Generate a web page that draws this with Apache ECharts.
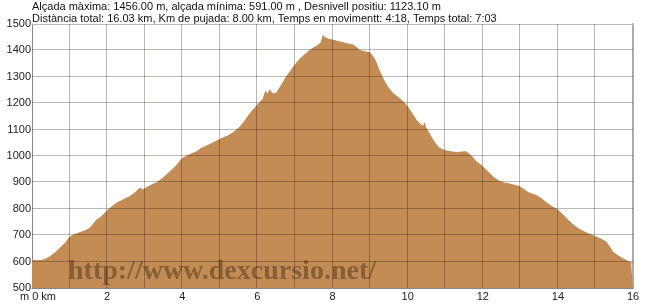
<!DOCTYPE html>
<html><head><meta charset="utf-8">
<script src="https://cdn.jsdelivr.net/npm/echarts@6/dist/echarts.min.js"></script>
<style>html,body{margin:0;padding:0;background:#fff}#c{width:650px;height:305px}</style>
</head><body><div id="c"></div>
<script>
var distanceKm = [0,0.15,0.3,0.48,0.6,0.74,0.9,1.0,1.1,1.28,1.4,1.54,1.65,1.72,1.85,2.0,2.1,2.25,2.4,2.6,2.75,2.87,2.95,3.0,3.15,3.32,3.5,3.67,3.85,4.0,4.2,4.38,4.5,4.65,4.8,5.0,5.2,5.35,5.5,5.62,5.8,6.0,6.15,6.22,6.27,6.33,6.4,6.5,6.65,6.77,6.9,7.0,7.1,7.2,7.35,7.48,7.6,7.7,7.75,7.8,7.9,8.0,8.15,8.28,8.4,8.55,8.65,8.72,8.85,9.0,9.1,9.17,9.25,9.34,9.45,9.61,9.75,9.88,10.0,10.12,10.23,10.35,10.42,10.45,10.48,10.55,10.67,10.75,10.85,11.0,11.15,11.3,11.45,11.56,11.7,11.83,12.0,12.18,12.3,12.45,12.6,12.71,12.85,12.98,13.1,13.24,13.4,13.51,13.65,13.78,14.0,14.1,14.22,14.35,14.49,14.6,14.75,14.9,15.0,15.15,15.28,15.38,15.46,15.6,15.72,15.85,15.95,16.0];
var elevationM = [605,603,606,618,632,650,672,692,700,710,716,726,745,758,770,793,805,821,832,846,862,878,872,878,888,899,918,940,965,991,1005,1016,1028,1038,1048,1063,1075,1088,1105,1124,1160,1193,1215,1245,1232,1250,1236,1237,1270,1300,1325,1345,1362,1376,1395,1408,1418,1430,1456,1448,1442,1439,1434,1429,1425,1420,1410,1401,1395,1391,1372,1351,1322,1294,1265,1237,1222,1206,1187,1160,1136,1118,1112,1125,1108,1092,1061,1045,1029,1020,1016,1013,1015,1016,1000,978,960,934,918,903,897,894,889,884,872,859,852,844,828,814,795,782,764,746,730,720,709,700,694,685,675,655,637,622,612,602,596,591];
var gridKm = [1,2,3,4,5,6,7,8,9,10,11,12,13,14,15];
var gridElev = [600,700,800,900,1000,1100,1200,1300,1400];
var headerLine1 = "Alçada màxima: 1456.00 m, alçada mínima: 591.00 m , Desnivell positiu: 1123.10 m";
var headerLine2 = "Distància total: 16.03 km, Km de pujada: 8.00 km, Temps en movimentt: 4:18, Temps total: 7:03";
var watermark = "http://www.dexcursio.net/";

var X_MIN = 0, X_MAX = 16, Y_MIN = 500, Y_MAX = 1500;
var pts = distanceKm.map(function(d,i){return [d, elevationM[i]];});
var lineCol = 'rgba(30,15,0,0.3)';
var chart = echarts.init(document.getElementById('c'), null, {renderer:'canvas'});

function vLine(params, api){
  var k = api.value(0);
  var a = api.coord([k, Y_MAX]), b = api.coord([k, Y_MIN]);
  var x = Math.round(a[0]) - 0.5;
  return {type:'line', shape:{x1:x, y1:a[1], x2:x, y2:b[1]}, style:{stroke:lineCol, lineWidth:1}};
}
function hLine(params, api){
  var e = api.value(1);
  var a = api.coord([X_MIN, e]), b = api.coord([X_MAX, e]);
  var y = Math.round(a[1]) - 0.5;
  return {type:'line', shape:{x1:a[0], y1:y, x2:b[0], y2:y}, style:{stroke:lineCol, lineWidth:1}};
}

chart.setOption({
  animation:false,
  backgroundColor:'#fff',
  textStyle:{fontFamily:'Liberation Sans, Arial, sans-serif'},
  grid:{left:32,right:17,top:24,bottom:17,show:false},
  xAxis:[{type:'value',min:X_MIN,max:X_MAX,interval:1,position:'bottom',
    axisLine:{show:true,onZero:false,lineStyle:{color:'#888',width:1}},
    axisTick:{show:false},
    splitLine:{show:false},
    axisLabel:{margin:3,fontSize:11,color:'#222',
      formatter:function(v){ if(v===0) return '{z|m 0 km}'; return (v%2===0)? String(v):''; },
      rich:{z:{fontSize:11,color:'#222',padding:[0,0,0,12]}}}
  },{type:'value',min:X_MIN,max:X_MAX,position:'top',
    axisLine:{show:true,onZero:false,lineStyle:{color:'#bbb',width:1}},
    axisTick:{show:false},axisLabel:{show:false},splitLine:{show:false}}],
  yAxis:[{type:'value',min:Y_MIN,max:Y_MAX,interval:100,position:'left',
    axisLine:{show:true,onZero:false,lineStyle:{color:'#888',width:1}},
    axisTick:{show:false},
    splitLine:{show:false},
    axisLabel:{margin:1,fontSize:11,color:'#222',padding:[0,0,7,0],formatter:function(v){return String(v);}}
  },{type:'value',min:Y_MIN,max:Y_MAX,position:'right',
    axisLine:{show:true,onZero:false,lineStyle:{color:'#aaa',width:2}},
    axisTick:{show:false},axisLabel:{show:false},splitLine:{show:false}}],
  series:[
    {type:'line',data:pts,showSymbol:false,symbol:'none',smooth:false,z:1,
      lineStyle:{width:1,color:'#C08A54'},
      areaStyle:{color:'#C38C54',opacity:1,origin:'start'}},
    {type:'custom',z:3,silent:true,renderItem:vLine,encode:{x:0,y:1},
      data:gridKm.map(function(k){return [k, Y_MIN];})},
    {type:'custom',z:3,silent:true,renderItem:hLine,encode:{x:0,y:1},
      data:gridElev.map(function(e){return [X_MIN, e];})}
  ],
  graphic:[
    {type:'text',left:32,top:1,z:10,style:{text:headerLine1,fontSize:11,fill:'#111',fontFamily:'Liberation Sans, Arial, sans-serif'}},
    {type:'text',left:32,top:13,z:10,style:{text:headerLine2,fontSize:11,fill:'#111',fontFamily:'Liberation Sans, Arial, sans-serif'}},
    {type:'text',left:68,top:258,z:10,silent:true,style:{text:watermark,fontSize:28,fontWeight:'bold',fill:'rgba(60,40,20,0.45)',fontFamily:'Liberation Serif, Times New Roman, serif'}}
  ]
});
</script></body></html>
